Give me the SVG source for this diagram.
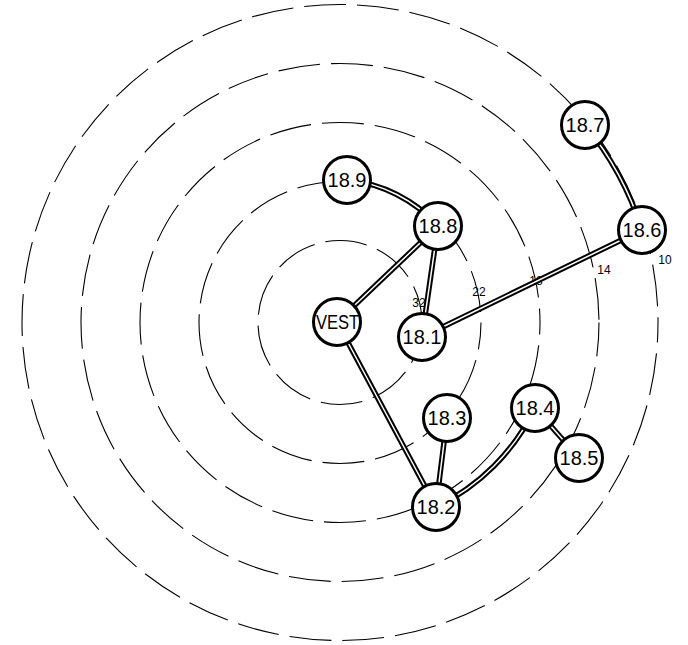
<svg xmlns="http://www.w3.org/2000/svg" width="688" height="645" viewBox="0 0 688 645">
<style>
.ring{fill:none;stroke:#000;stroke-width:1.1;stroke-dasharray:42 11}
.cb{fill:none;stroke:#000;stroke-width:5.5;stroke-linecap:butt}
.cw{fill:none;stroke:#fff;stroke-width:1.5;stroke-linecap:butt}
.node circle{fill:#fff;stroke:#000;stroke-width:3}
.node text{font-family:"Liberation Sans",Arial,sans-serif;font-size:20px;text-anchor:middle;fill:#000}
.lbl{font-family:"Liberation Sans",Arial,sans-serif;font-size:12px;text-anchor:middle;fill:#000}
</style>
<rect width="688" height="645" fill="#fff"/>
<g id="rings">
<circle class="ring" cx="340" cy="322.5" r="82"/>
<circle class="ring" cx="340" cy="322.5" r="141" stroke-dashoffset="15"/>
<circle class="ring" cx="340" cy="322.5" r="200" stroke-dashoffset="30"/>
<circle class="ring" cx="340" cy="322.5" r="259" stroke-dashoffset="8"/>
<circle class="ring" cx="340" cy="322.5" r="318" stroke-dashoffset="22"/>
</g>
<g id="ring-labels">
<text class="lbl" x="419" y="307">32</text>
<text class="lbl" x="479" y="296">22</text>
<text class="lbl" x="536" y="285">18</text>
<text class="lbl" x="604" y="274">14</text>
<text class="lbl" x="665" y="264">10</text>
</g>
<g id="connectors">
<path id="c1" class="cb" d="M337 322 L438 226"/>
<path class="cw" d="M337 322 L438 226"/>
<path id="c2" class="cb" d="M438 226 L422 337"/>
<path class="cw" d="M438 226 L422 337"/>
<path id="c3" class="cb" d="M347 180 A141 141 0 0 1 438 226"/>
<path class="cw" d="M347 180 A141 141 0 0 1 438 226"/>
<path id="c4" class="cb" d="M422 337 L642 230"/>
<path class="cw" d="M422 337 L642 230"/>
<path id="c5" class="cb" d="M585 125 A316 316 0 0 1 642 230"/>
<path class="cw" d="M585 125 A316 316 0 0 1 642 230"/>
<path id="c6" class="cb" d="M337 322 L436 507"/>
<path class="cw" d="M337 322 L436 507"/>
<path id="c7" class="cb" d="M447 418 L436 507"/>
<path class="cw" d="M447 418 L436 507"/>
<path id="c8" class="cb" d="M436 507 A210 210 0 0 0 535 408"/>
<path class="cw" d="M436 507 A210 210 0 0 0 535 408"/>
<path id="c9" class="cb" d="M535 408 L579 458"/>
<path class="cw" d="M535 408 L579 458"/>
</g>
<g id="n-vest" class="node"><circle cx="337" cy="322" r="23.5"/><text x="339" y="329" textLength="46" lengthAdjust="spacingAndGlyphs">VEST.</text></g>
<g id="n-18-1" class="node"><circle cx="422" cy="337" r="23.5"/><text x="422" y="344">18.1</text></g>
<g id="n-18-2" class="node"><circle cx="436" cy="507" r="23.5"/><text x="436" y="514">18.2</text></g>
<g id="n-18-3" class="node"><circle cx="447" cy="418" r="23.5"/><text x="447" y="425">18.3</text></g>
<g id="n-18-4" class="node"><circle cx="535" cy="408" r="23.5"/><text x="535" y="415">18.4</text></g>
<g id="n-18-5" class="node"><circle cx="579" cy="458" r="23.5"/><text x="579" y="465">18.5</text></g>
<g id="n-18-6" class="node"><circle cx="642" cy="230" r="23.5"/><text x="642" y="237">18.6</text></g>
<g id="n-18-7" class="node"><circle cx="585" cy="125" r="23.5"/><text x="585" y="132">18.7</text></g>
<g id="n-18-8" class="node"><circle cx="438" cy="226" r="23.5"/><text x="438" y="233">18.8</text></g>
<g id="n-18-9" class="node"><circle cx="347" cy="180" r="23.5"/><text x="347" y="187">18.9</text></g>
</svg>
